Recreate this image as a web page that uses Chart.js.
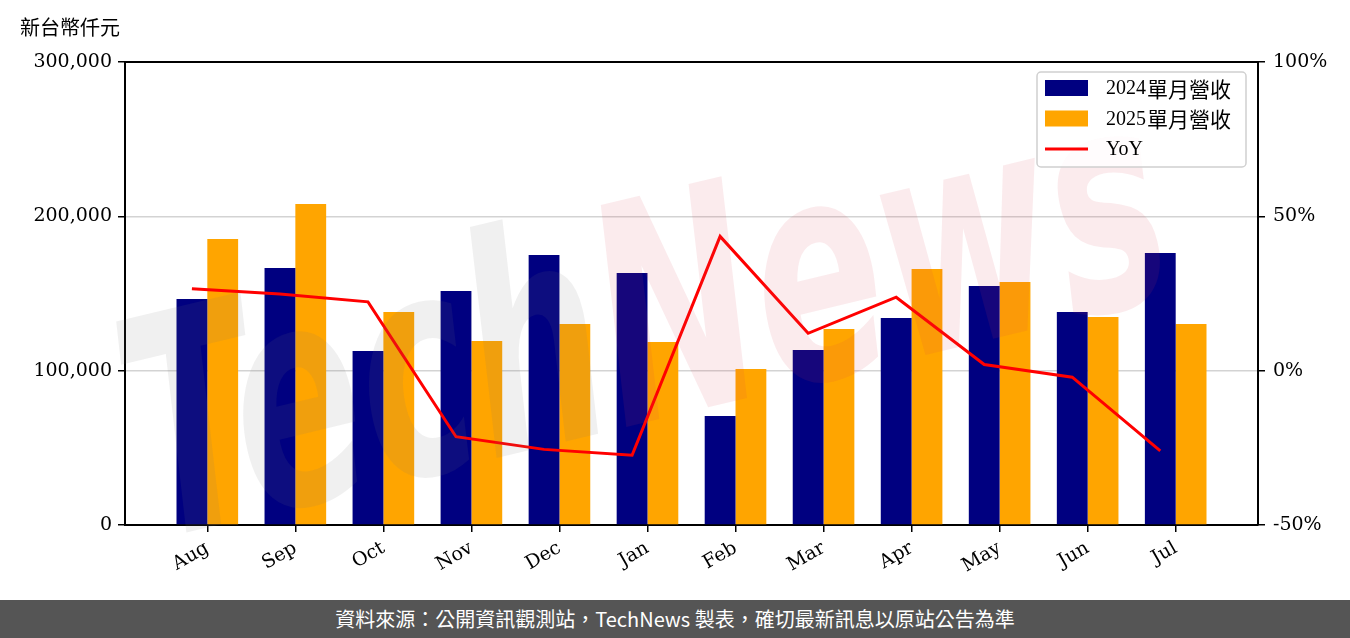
<!DOCTYPE html>
<html>
<head>
<meta charset="utf-8">
<script src="https://cdn.jsdelivr.net/npm/chart.js@4.4.1/dist/chart.umd.min.js"></script>
<style>
    html, body { margin: 0; padding: 0; background: #fff; }
    #wrap { position: relative; width: 1350px; height: 600px; }
    #footer {
        width: 1350px; height: 38px; line-height: 38px;
        background: #555555; color: #fff; text-align: center;
        font-size: 20px; font-family: 'Noto Sans CJK TC', 'Noto Sans', sans-serif;
    }
</style>
</head>
<body>
<div id="wrap"><canvas id="chart" width="1350" height="600"></canvas></div>
<div id="footer">資料來源：公開資訊觀測站，TechNews 製表，確切最新訊息以原站公告為準</div>
<script>
'use strict';

var months = ['Aug', 'Sep', 'Oct', 'Nov', 'Dec', 'Jan', 'Feb', 'Mar', 'Apr', 'May', 'Jun', 'Jul'];
var rev2024 = [146500, 166600, 112800, 151700, 175000, 163300, 70600, 113400, 134200, 154900, 138000, 176300];
var rev2025 = [185300, 208000, 138000, 119200, 130300, 118600, 101100, 127000, 165900, 157500, 134800, 130300];
var yoy = [26.5, 24.8, 22.3, -21.4, -25.5, -27.4, 43.5, 12.1, 23.8, 2.0, -2.1, -26.0];
var leftTicks = [0, 100000, 200000, 300000];
var rightTicks = [-50, 0, 50, 100];

var tickFont = "'DejaVu Serif', serif";
var latinFont = "'Liberation Serif', serif";
var cjk = "'Noto Sans CJK TC', sans-serif";

// line sits on the 2024 bar, like the original
var lineShift = -0.175;

function pts(arr, shift) {
    return arr.map(function (v, i) { return { x: i + shift, y: v }; });
}

// latin part and cjk part drawn with their own fonts
function mixedText(ctx, txt, x, y) {
    var m = txt.match(/^([\x00-\x7f]*)(.*)$/);
    ctx.font = '20px ' + latinFont;
    ctx.fillText(m[1], x, y);
    var w = ctx.measureText(m[1]).width;
    if (m[2]) {
        ctx.font = '21px ' + cjk;
        ctx.fillText(m[2], x + w + 1, y);
    }
}

var frameAndExtras = {
    id: 'frameAndExtras',
    afterDatasetsDraw: function (chart) {
        var ctx = chart.ctx, a = chart.chartArea;
        // watermark
        ctx.save();
        ctx.translate(650, 340);
        ctx.rotate(-13.5 * Math.PI / 180);
        ctx.scale(1, 1.6);
        ctx.font = "italic bold 190px 'DejaVu Sans'";
        ctx.textBaseline = 'middle';
        var wT = ctx.measureText('Tech').width, wN = ctx.measureText('News').width;
        var x0 = -(wT + wN) / 2;
        ctx.fillStyle = 'rgba(120,120,120,0.11)';
        ctx.fillText('Tech', x0, 0);
        ctx.fillStyle = 'rgba(215,60,80,0.10)';
        ctx.fillText('News', x0 + wT, 0);
        ctx.restore();

        // top spine
        ctx.save();
        ctx.strokeStyle = '#000';
        ctx.lineWidth = 2;
        ctx.beginPath();
        ctx.moveTo(a.left - 1, a.top);
        ctx.lineTo(a.right + 1, a.top);
        ctx.stroke();
        ctx.restore();
    },
    afterDraw: function (chart) {
        var ctx = chart.ctx, a = chart.chartArea;
        // unit label
        ctx.save();
        ctx.font = '20px ' + cjk;
        ctx.fillStyle = '#000';
        ctx.textBaseline = 'middle';
        ctx.fillText('新台幣仟元', 20, 27);
        ctx.restore();

        // legend box
        var ds = chart.data.datasets;
        var bw = 209, bh = 95;
        var bx = a.right - 12 - bw, by = a.top + 10;
        ctx.save();
        ctx.fillStyle = 'rgba(255,255,255,0.85)';
        ctx.strokeStyle = '#d0d0d0';
        ctx.lineWidth = 1.5;
        ctx.beginPath();
        ctx.roundRect(bx, by, bw, bh, 4);
        ctx.fill();
        ctx.stroke();
        ctx.textBaseline = 'middle';
        for (var i = 0; i < ds.length; i++) {
            var cy = by + 16 + i * 30.5;
            if (ds[i].type === 'line') {
                ctx.strokeStyle = ds[i].borderColor;
                ctx.lineWidth = 3;
                ctx.beginPath();
                ctx.moveTo(bx + 8, cy);
                ctx.lineTo(bx + 51, cy);
                ctx.stroke();
            } else {
                ctx.fillStyle = ds[i].backgroundColor;
                ctx.fillRect(bx + 8, cy - 8, 43, 16);
            }
            ctx.fillStyle = '#000';
            mixedText(ctx, ds[i].label, bx + 69, cy + 1);
        }
        ctx.restore();
    }
};

var ctx = document.getElementById('chart').getContext('2d');

var myChart = new Chart(ctx, {
    type: 'bar',
    data: {
        datasets: [{
            label: '2024單月營收',
            data: pts(rev2024, 0),
            backgroundColor: '#000080',
            yAxisID: 'y',
            order: 1
        }, {
            label: '2025單月營收',
            data: pts(rev2025, 0),
            backgroundColor: '#ffa500',
            yAxisID: 'y',
            order: 1
        }, {
            type: 'line',
            label: 'YoY',
            data: pts(yoy, lineShift),
            borderColor: '#ff0000',
            backgroundColor: '#ff0000',
            borderWidth: 3,
            pointRadius: 0,
            tension: 0,
            xAxisID: 'x',
            yAxisID: 'y1',
            order: 0
        }]
    },
    options: {
        responsive: false,
        animation: false,
        categoryPercentage: 0.7,
        barPercentage: 1.0,
        layout: { padding: { top: 62, left: 0, right: 0, bottom: 0 } },
        plugins: {
            legend: { display: false },
            tooltip: { enabled: false }
        },
        scales: {
            x: {
                type: 'linear',
                position: 'bottom',
                offset: false,
                min: -0.935,
                max: 11.935,
                afterBuildTicks: function (s) {
                    s.ticks = months.map(function (m, i) { return { value: i }; });
                },
                afterFit: function (s) { s.height = 75; },
                grid: { offset: false, drawOnChartArea: false, drawTicks: true, tickLength: 7, color: '#000', lineWidth: 1.5 },
                border: { display: true, color: '#000', width: 2 },
                ticks: {
                    autoSkip: false,
                    minRotation: 30,
                    maxRotation: 30,
                    padding: 5,
                    color: '#000',
                    font: { family: tickFont, size: 19 },
                    callback: function (v) { return months[v]; }
                }
            },
            y: {
                position: 'left',
                min: 0,
                max: 300000,
                afterBuildTicks: function (s) {
                    s.ticks = leftTicks.map(function (v) { return { value: v }; });
                },
                afterFit: function (s) { s.width = 125; },
                grid: { color: '#d3d3d3', tickColor: '#000', tickLength: 7, lineWidth: 1.5 },
                border: { display: true, color: '#000', width: 2 },
                ticks: {
                    padding: 6,
                    color: '#000',
                    font: { family: tickFont, size: 19 },
                    callback: function (v) { return v.toLocaleString('en-US'); }
                }
            },
            y1: {
                position: 'right',
                min: -50,
                max: 100,
                afterBuildTicks: function (s) {
                    s.ticks = rightTicks.map(function (v) { return { value: v }; });
                },
                afterFit: function (s) { s.width = 92; },
                grid: { drawOnChartArea: false, tickColor: '#000', tickLength: 7, lineWidth: 1.5 },
                border: { display: true, color: '#000', width: 2 },
                ticks: {
                    padding: 8,
                    color: '#000',
                    font: { family: tickFont, size: 19 },
                    callback: function (v) { return v + '%'; }
                }
            }
        }
    },
    plugins: [frameAndExtras]
});
</script>
</body>
</html>
